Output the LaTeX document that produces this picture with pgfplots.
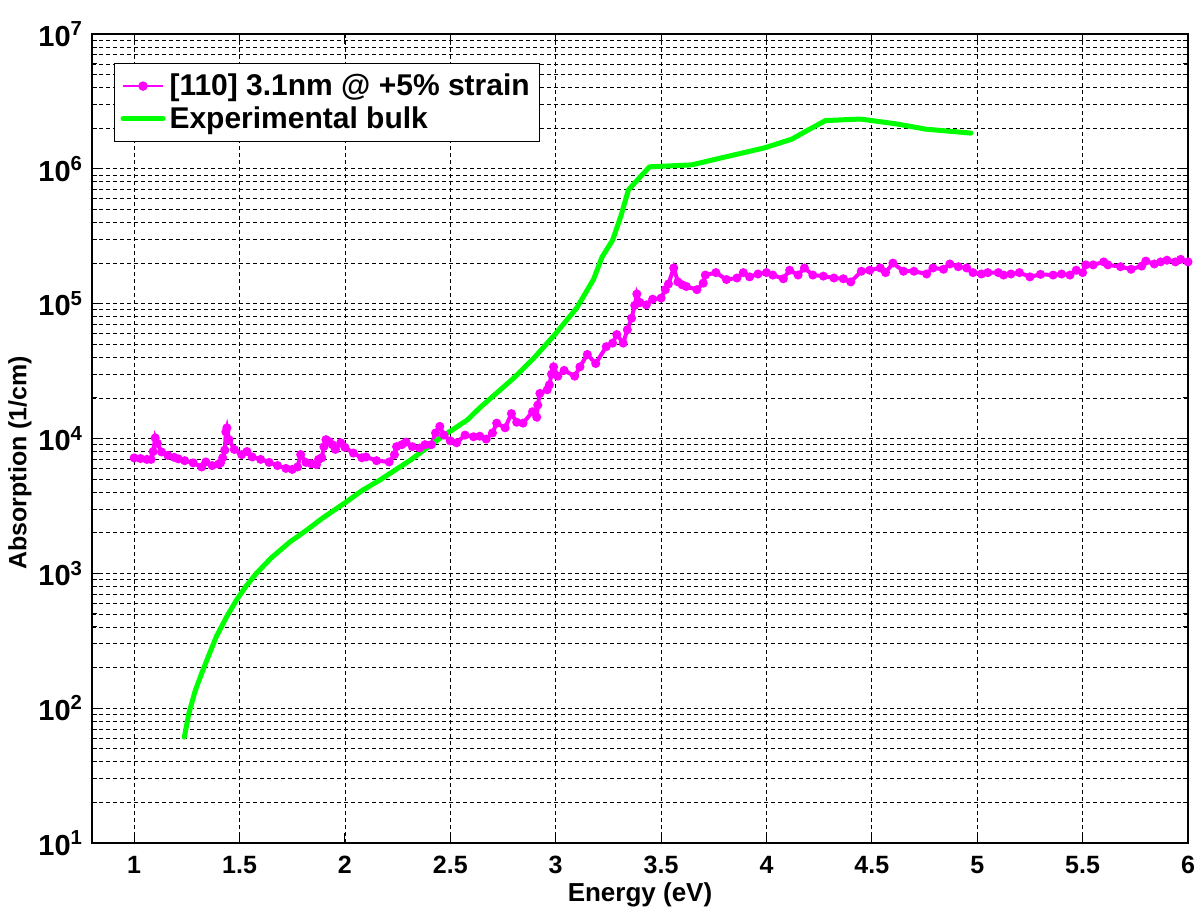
\documentclass[border=0pt]{standalone}
\usepackage{pgfplots}
\pgfplotsset{compat=1.18}
\usepackage{fontspec}
\setmainfont{Liberation Sans}

\definecolor{mmag}{rgb}{1,0,1}
\definecolor{mgreen}{rgb}{0,1,0}

% [110] 3.1nm @ +5% strain
\pgfplotstableread{
x y
1.00 7180
1.03 7100
1.06 7000
1.08 7000
1.09 8000
1.10 10100
1.11 9200
1.13 7950
1.16 7500
1.19 7250
1.21 7060
1.24 6850
1.28 6600
1.32 6150
1.34 6700
1.37 6300
1.40 6450
1.41 6600
1.42 7200
1.43 8200
1.435 11200
1.44 12000
1.45 9800
1.475 8300
1.51 7600
1.535 8000
1.56 7300
1.60 7000
1.64 6650
1.68 6300
1.72 6000
1.75 5900
1.775 6150
1.79 7600
1.815 6650
1.84 6500
1.865 6400
1.875 7000
1.89 7200
1.90 8700
1.91 9800
1.925 9500
1.94 9000
1.955 8300
1.98 9300
2.00 8600
2.04 7800
2.08 7200
2.10 7300
2.15 6850
2.21 6700
2.235 7600
2.245 8700
2.27 9000
2.29 9400
2.32 8700
2.355 8500
2.38 9000
2.41 9000
2.43 11000
2.45 12300
2.47 10600
2.50 9600
2.53 9300
2.57 10600
2.61 10300
2.64 10400
2.67 9900
2.70 11000
2.72 13000
2.76 12000
2.79 15300
2.815 13200
2.845 13000
2.89 15800
2.91 14400
2.915 17700
2.925 21600
2.96 23000
2.97 25000
2.98 30000
2.99 34000
3.01 29000
3.04 32000
3.09 29000
3.115 34000
3.15 42000
3.19 36000
3.24 48000
3.27 51000
3.29 59000
3.32 51000
3.34 64000
3.36 78000
3.375 97000
3.385 118000
3.40 102000
3.43 98000
3.46 108000
3.50 110000
3.52 127000
3.535 140000
3.56 184000
3.58 145000
3.60 138000
3.62 134000
3.67 127000
3.70 142000
3.71 163000
3.76 170000
3.81 151000
3.86 155000
3.89 170000
3.92 158000
3.96 166000
4.00 170000
4.03 163000
4.08 153000
4.11 177000
4.15 163000
4.18 184000
4.22 163000
4.27 160000
4.32 155000
4.365 153000
4.40 145000
4.45 174000
4.49 177000
4.54 184000
4.565 170000
4.60 200000
4.65 174000
4.70 174000
4.76 166000
4.79 184000
4.84 180000
4.87 197000
4.91 188000
4.95 184000
4.98 170000
5.02 166000
5.05 170000
5.10 170000
5.125 163000
5.16 166000
5.20 170000
5.25 158000
5.30 165000
5.36 163000
5.40 166000
5.44 163000
5.47 177000
5.50 170000
5.515 194000
5.55 194000
5.60 204000
5.62 194000
5.68 188000
5.73 180000
5.78 190000
5.80 207000
5.84 197000
5.87 204000
5.90 210000
5.94 204000
5.965 213000
6.00 204000
}\strained

% Experimental bulk
\pgfplotstableread{
x y
1.238 61
1.26 92
1.29 135
1.323 186
1.36 260
1.39 340
1.44 480
1.485 632
1.53 800
1.58 1000
1.65 1300
1.737 1700
1.82 2100
1.894 2570
2.008 3400
2.08 4100
2.164 4900
2.31 6900
2.46 10300
2.58 13700
2.64 16900
2.80 28000
2.90 40000
3.00 60000
3.10 93000
3.18 152000
3.22 222000
3.27 296000
3.31 450000
3.345 698000
3.445 1035000
3.645 1070000
3.80 1220000
3.99 1430000
4.12 1660000
4.20 1950000
4.28 2280000
4.445 2340000
4.50 2280000
4.62 2150000
4.755 1970000
4.87 1900000
4.97 1840000
}\bulk

\begin{document}
\begin{tikzpicture}
\begin{axis}[
    scale only axis,
    width=548pt, height=404.5pt,
    ymode=log,
    xmin=0.8, xmax=6,
    ymin=10, ymax=1e7,
    xtick={1,1.5,2,2.5,3,3.5,4,4.5,5,5.5,6},
    xticklabels={1,1.5,2,2.5,3,3.5,4,4.5,5,5.5,6},
    ytick={10,100,1000,10000,100000,1000000,10000000},
    yticklabels={10\textsuperscript{1},10\textsuperscript{2},10\textsuperscript{3},10\textsuperscript{4},10\textsuperscript{5},10\textsuperscript{6},10\textsuperscript{7}},
    grid=both,
    major grid style={black, dash pattern=on 2pt off 1.5pt, line width=0.4pt},
    minor grid style={black, dash pattern=on 2pt off 1.5pt, line width=0.4pt},
    axis line style={black, line width=0.7pt},
    tick style={black, line width=0.5pt},
    tick align=inside,
    major tick length=5pt,
    minor tick length=2.5pt,
    xticklabel style={font=\bfseries\fontsize{12.5}{15}\selectfont, yshift=-3pt},
    yticklabel style={font=\bfseries\fontsize{14.5}{17}\selectfont, xshift=-1pt},
    xlabel={Energy (eV)},
    ylabel={Absorption (1/cm)},
    xlabel style={font=\bfseries\fontsize{13}{15}\selectfont,
        at={(rel axis cs:0.5,-0.064)}, anchor=center},
    ylabel style={font=\bfseries\fontsize{12.5}{15}\selectfont,
        at={(rel axis cs:-0.0657,0.47)}, anchor=center},
    legend style={at={(0.02,0.964)}, anchor=north west, draw=black, line width=0.6pt,
        fill=white, font=\bfseries\fontsize{15}{18}\selectfont, cells={anchor=west},
        row sep=0pt, inner sep=3pt},
]
\addplot[mmag, line width=2pt, mark=*, mark size=1.2pt,
    legend image code/.code={\draw[mmag, line width=0.6pt] (0pt,0pt) -- (20pt,0pt);
        \fill[mmag] (10pt,0pt) circle (1.3pt);}]
    table[x=x, y=y] {\strained};
\addlegendentry{[110] 3.1nm @ +5\% strain}
\addplot[mgreen, line width=2.5pt, line join=round, line cap=round,
    legend image code/.code={\draw[mgreen, line width=2.5pt] (0pt,0pt) -- (20pt,0pt);}]
    table[x=x, y=y] {\bulk};
\addlegendentry{Experimental bulk}
\end{axis}
\pgfresetboundingbox
\path ([xshift=-46pt, yshift=-34.5pt]current axis.south west)
    rectangle ([xshift=7pt, yshift=17pt]current axis.north east);
\end{tikzpicture}
\end{document}
